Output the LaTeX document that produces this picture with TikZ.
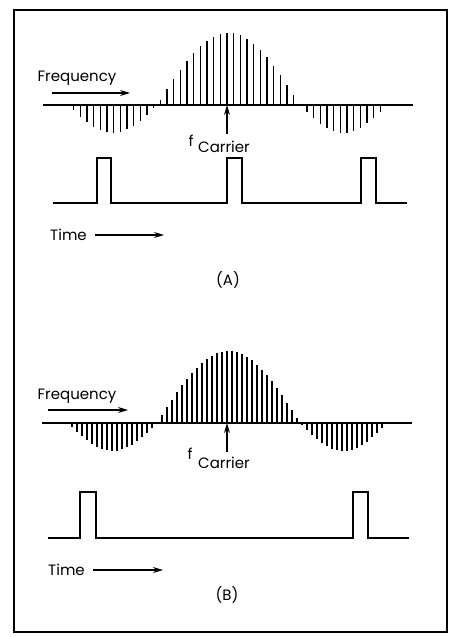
\documentclass[tikz,border=0pt]{standalone}
\usepackage{fontspec}
\setmainfont{Poppins}
\usetikzlibrary{arrows.meta,positioning}

\tikzset{
  txt/.style={font=\fontsize{15}{15}\selectfont, inner sep=0pt},
  subtxt/.style={font=\fontsize{15}{15}\selectfont, inner sep=0pt},
  spikeline/.style={line width=1.2pt},
  axisline/.style={line width=2pt},
  pulseline/.style={line width=1.2pt},
  axarrow/.style={-{Stealth[length=10pt,width=6pt]}, line width=1.2pt},
  declare function={lobe(\x)=ifthenelse(\x<157,-28*sin((157-\x)/89*180),ifthenelse(\x<300,72*sin((\x-157)/143*180),-28*sin((\x-300)/87*180)));}
}

\begin{document}
\begin{tikzpicture}[x=1pt, y=-1pt, >=Stealth]
        \useasboundingbox (0,0) rectangle (457,637);
        % Outer frame
        \draw[line width=2.4pt] (14,10) rectangle (447,632);

        % ---- Panel A: short pulse period ----
        \foreach \k in {-24,...,24} {
            \pgfmathsetmacro\xx{227+6.67*\k}
            \pgfmathsetmacro\yy{105-lobe(\xx)}
            \draw[spikeline] (\xx,105) -- (\xx,\yy);
        }
        \coordinate (A-axl) at (43,105);
        \coordinate (A-axr) at (413,105);
        \draw[axisline] (A-axl) -- (A-axr);

        \node[txt] (A-freq) at (77,78) {Frequency};
        \coordinate (A-fs) at (52,93);
        \coordinate (A-fe) at (130,93);
        \draw[axarrow] (A-fs) -- (A-fe);

        \coordinate (A-fc) at (227,105);
        \coordinate (A-fcbot) at (227,134);
        \draw[axarrow] (A-fcbot) -- (A-fc);
        \node[txt, anchor=base] (A-f) at (191,146) {f};
        \node[subtxt, anchor=base west] (A-carrier) at (198,152) {Carrier};

        % pulse train A
        \draw[pulseline] (53,203) -- (97,203) -- (97,158) -- (111,158) -- (111,203)
            -- (227,203) -- (227,158) -- (242,158) -- (242,203)
            -- (361,203) -- (361,158) -- (376,158) -- (376,203) -- (407,203);

        \node[txt, anchor=west] (A-time) at (50,235) {Time};
        \coordinate (A-te) at (164,235);
        \draw[axarrow] ([xshift=8pt]A-time.east) -- (A-te);

        \node[txt] (A-lbl) at (228,280) {(A)};

        % ---- Panel B: long pulse period ----
        \foreach \k in {-32,...,32} {
            \pgfmathsetmacro\xx{227+5*\k}
            \pgfmathsetmacro\yy{423-lobe(\xx)}
            \draw[spikeline] (\xx,423) -- (\xx,\yy);
        }
        \coordinate (B-axl) at (42,423);
        \coordinate (B-axr) at (412,423);
        \draw[axisline] (B-axl) -- (B-axr);

        \node[txt] (B-freq) at (77,396) {Frequency};
        \coordinate (B-fs) at (48,410);
        \coordinate (B-fe) at (128,410);
        \draw[axarrow] (B-fs) -- (B-fe);

        \coordinate (B-fc) at (227,423);
        \coordinate (B-fcbot) at (227,452);
        \draw[axarrow] (B-fcbot) -- (B-fc);
        \node[txt, anchor=base] (B-f) at (190,459) {f};
        \node[subtxt, anchor=base west] (B-carrier) at (198,468) {Carrier};

        % pulse train B
        \draw[pulseline] (48,538) -- (80,538) -- (80,492) -- (96,492) -- (96,538)
            -- (353,538) -- (353,492) -- (368,492) -- (368,538) -- (409,538);

        \node[txt, anchor=west] (B-time) at (48,570) {Time};
        \coordinate (B-te) at (163,570);
        \draw[axarrow] ([xshift=8pt]B-time.east) -- (B-te);

        \node[txt] (B-lbl) at (227,595) {(B)};
    \end{tikzpicture}
\end{document}
